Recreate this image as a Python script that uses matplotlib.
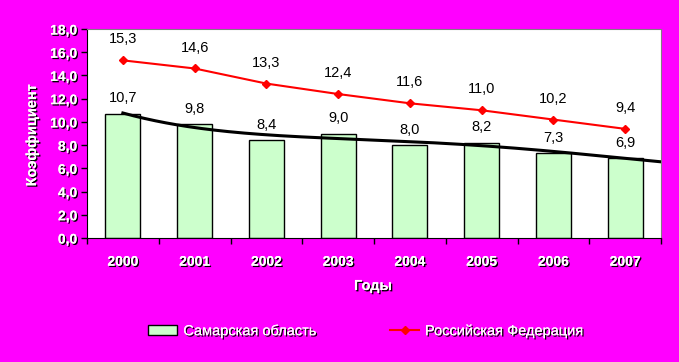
import numpy as np
import matplotlib.pyplot as plt
import matplotlib.patheffects as pe
from matplotlib.lines import Line2D
from matplotlib.patches import Patch

years = ['2000', '2001', '2002', '2003', '2004', '2005', '2006', '2007']
samara = [10.7, 9.8, 8.4, 9.0, 8.0, 8.2, 7.3, 6.9]
russia = [15.3, 14.6, 13.3, 12.4, 11.6, 11.0, 10.2, 9.4]

MAGENTA = '#ff00ff'
plt.rcParams['font.family'] = ['Liberation Sans', 'DejaVu Sans']

shadow = [pe.withSimplePatchShadow(offset=(1, -1), shadow_rgbFace='black', alpha=1.0),
          pe.Normal()]


def fmt(v):
    return f"{v:.1f}".replace('.', ',')


fig = plt.figure(figsize=(6.79, 3.62), dpi=100, facecolor=MAGENTA)
ax = fig.add_axes([87 / 679, 1 - 238 / 362, 574 / 679, 209 / 362])
ax.set_facecolor('white')

x = np.arange(len(years))
ax.bar(x, samara, width=0.49, color='#ccffcc', edgecolor='black', linewidth=1, zorder=2)

# polynomial trend of the regional series
coef = np.polyfit(x, samara, 4)
xt = np.linspace(0, 7.5, 200)
ax.plot(xt, np.polyval(coef, xt), color='black', linewidth=2.2, zorder=3)

ax.plot(x, russia, color='red', linewidth=1.5, marker='D', markersize=4.5, zorder=4)

for xi, v in zip(x, samara):
    ax.annotate(fmt(v), (xi, v), xytext=(0, 6), textcoords='offset points',
                ha='center', va='bottom', fontsize=10.5, color='black')
for xi, v in zip(x, russia):
    ax.annotate(fmt(v), (xi, v), xytext=(0, 10), textcoords='offset points',
                ha='center', va='bottom', fontsize=10.5, color='black')

ax.set_xlim(-0.5, 7.5)
ax.set_ylim(0, 18)
ax.set_yticks(np.arange(0, 18.1, 2))
ax.set_yticklabels([fmt(v) for v in np.arange(0, 18.1, 2)])
ax.set_xticks(np.arange(-0.5, 7.6, 1))
ax.set_xticklabels([])
ax.set_xticks(x, minor=True)
ax.set_xticklabels(years, minor=True)
ax.tick_params(axis='x', which='major', direction='out', length=4, width=1)
ax.tick_params(axis='x', which='minor', length=0, pad=12)
ax.tick_params(axis='y', direction='out', length=4, width=1, pad=3)

for lab in ax.get_yticklabels() + ax.get_xticklabels(minor=True):
    lab.set_color('white')
    lab.set_fontweight('bold')
    lab.set_fontsize(10)
    lab.set_path_effects(shadow)

for s in ['top', 'right']:
    ax.spines[s].set_color('#808080')
for s in ['left', 'bottom']:
    ax.spines[s].set_color('black')

fig.text(32 / 679, 1 - 135 / 362, 'Коэффициент', rotation=90, ha='center', va='center',
         color='white', fontweight='bold', fontsize=10.5, path_effects=shadow)
fig.text(373 / 679, 1 - 286 / 362, 'Годы', ha='center', va='center',
         color='white', fontweight='bold', fontsize=10.5, path_effects=shadow)

handles = [Patch(facecolor='#ccffcc', edgecolor='black'),
           Line2D([0], [0], color='red', linewidth=1.5, marker='D', markersize=4)]
leg = fig.legend(handles, ['Самарская область', 'Российская Федерация'], ncol=2,
                 loc='center', bbox_to_anchor=(366 / 679, 1 - 331 / 362), frameon=False,
                 fontsize=10.5, columnspacing=5.0, handlelength=2.0, handletextpad=0.4)
for t in leg.get_texts():
    t.set_color('white')
    t.set_path_effects(shadow)

fig.savefig('out.png', dpi=100, facecolor=MAGENTA)
